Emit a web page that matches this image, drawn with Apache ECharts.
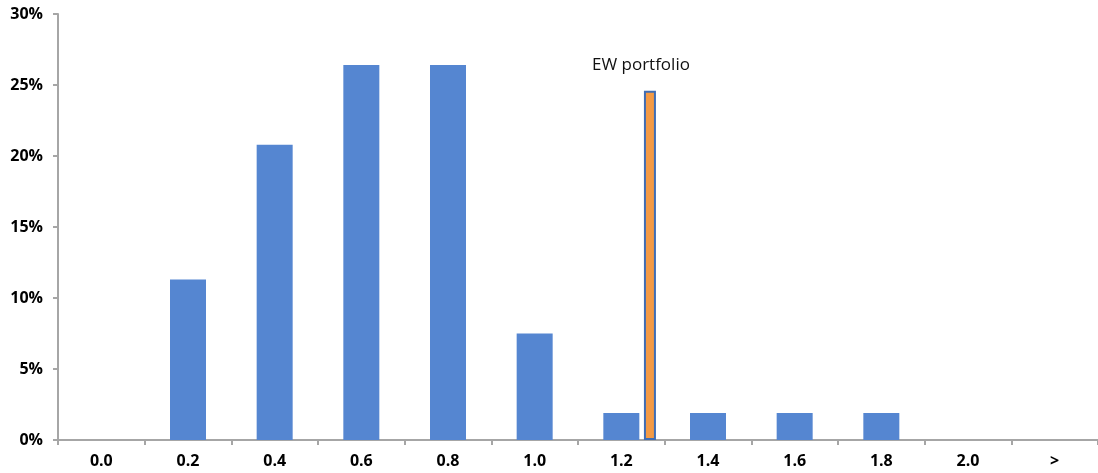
<!DOCTYPE html>
<html lang="en">
<head>
  <meta charset="UTF-8">
  <title>EW portfolio</title>
  <script src="https://cdn.jsdelivr.net/npm/echarts@6/dist/echarts.min.js"></script>
  <style>
    html, body { margin: 0; padding: 0; background: #fff; }
    #main { width: 1098px; height: 473px; }
  </style>
</head>
<body>
<div id="main"></div>
<script>
  // histogram buckets
  var categories = ['0.0', '0.2', '0.4', '0.6', '0.8', '1.0', '1.2', '1.4', '1.6', '1.8', '2.0', '>'];
  var shares = [0, 11.3, 20.8, 26.4, 26.4, 7.5, 1.9, 1.9, 1.9, 1.9, 0, 0];
  // EW portfolio marker (x value on the bucket scale, height in %)
  var ewX = 1.266;
  var ewValue = 24.6;
  var yTicks = [0, 5, 10, 15, 20, 25, 30];

  var bucketStep = 0.2;
  // category i is centred at i + 0.5 on the hidden value axis
  var ewPos = ewX / bucketStep + 0.5;

  var myChart = echarts.init(document.getElementById('main'));
  var axisGrey = '#a6a6a6';
  var option = {
    animation: false,
    grid: { left: 58, right: 0, top: 14, bottom: 33 },
    xAxis: [
      {
        type: 'category',
        data: categories,
        axisLine: { lineStyle: { color: axisGrey, width: 2 } },
        axisTick: { show: true, length: 5, lineStyle: { color: axisGrey, width: 2 } },
        axisLabel: {
          color: '#000', fontWeight: 'bold', fontSize: 16,
          fontFamily: 'Open Sans', margin: 13
        }
      },
      {
        type: 'value', min: 0, max: categories.length, show: false
      }
    ],
    yAxis: {
      type: 'value',
      min: yTicks[0],
      max: yTicks[yTicks.length - 1],
      interval: 5,
      splitLine: { show: false },
      axisLine: { show: true, lineStyle: { color: axisGrey, width: 2 } },
      axisTick: { show: true, length: 5, lineStyle: { color: axisGrey, width: 2 } },
      axisLabel: {
        formatter: '{value}%', color: '#000', fontWeight: 'bold', fontSize: 16,
        fontFamily: 'Open Sans', margin: 15
      }
    },
    series: [
      {
        type: 'bar',
        xAxisIndex: 0,
        data: shares,
        barWidth: 36,
        itemStyle: { color: '#5586d1' }
      },
      {
        type: 'bar',
        xAxisIndex: 1,
        data: [[ewPos, ewValue]],
        barWidth: 12,
        itemStyle: { color: '#f39a45', borderColor: '#3e6db5', borderWidth: 2 },
        label: {
          show: true,
          position: 'top',
          distance: 17,
          offset: [-9, 0],
          formatter: 'EW portfolio',
          color: '#111',
          fontSize: 17,
          fontFamily: 'Open Sans'
        }
      }
    ]
  };
  myChart.setOption(option);
</script>
</body>
</html>
